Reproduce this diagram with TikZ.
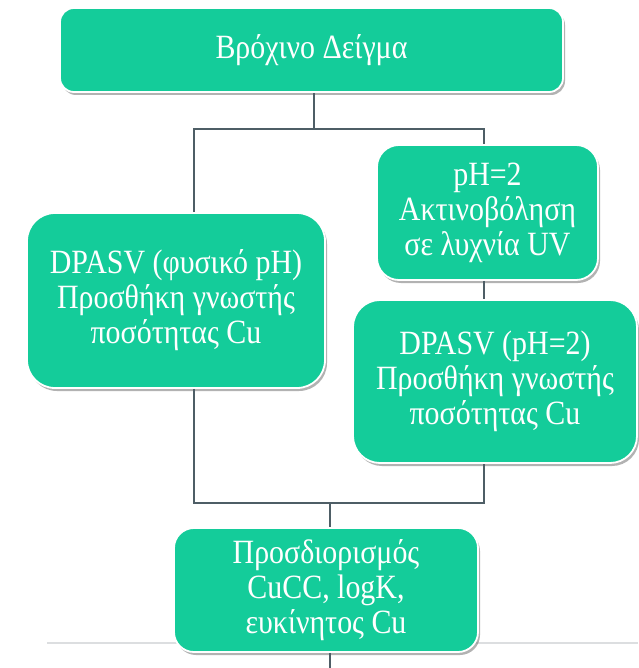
\documentclass[tikz,border=0pt]{standalone}
\usepackage{fontspec}
\setmainfont{Liberation Serif}
\newfontfamily\boxfont[FakeStretch=0.88]{Liberation Serif}
\usetikzlibrary{shadows}
\definecolor{boxgreen}{RGB}{20,204,154}
\definecolor{connc}{RGB}{78,94,102}
\definecolor{rulec}{RGB}{220,222,224}
\begin{document}
\begin{tikzpicture}[x=1pt,y=1pt,
  box/.style={fill=boxgreen, draw=white, line width=1.8pt, align=center,
    text=white, inner sep=2pt,
    font=\boxfont\fontsize{34}{35}\selectfont,
    drop shadow={shadow xshift=2pt, shadow yshift=-3pt, fill=black!55, opacity=0.55}},
  conn/.style={draw=connc, line width=1.4pt},
  rulel/.style={draw=rulec, line width=1.2pt}]
\useasboundingbox (0,0) rectangle (638,-668);
\fill[white] (0,0) rectangle (638,-668);
% light rule behind the bottom box
\coordinate (g1) at (47,-643);
\coordinate (g2) at (638,-643);
\draw[rulel] (g1) -- (g2);
% boxes
\node[box, minimum width=503pt, minimum height=84pt, rounded corners=14pt] (top) at (311.5,-50) {Βρόχινο Δείγμα};
\node[box, minimum width=221pt, minimum height=135pt, rounded corners=22pt] (rtop) at (487.5,-212.5) {pH=2\\Ακτινοβόληση\\σε λυχνία UV};
\node[box, minimum width=298pt, minimum height=175pt, rounded corners=28pt] (left) at (176,-300.5) {DPASV (φυσικό pH)\\Προσθήκη γνωστής\\ποσότητας Cu};
\node[box, minimum width=284pt, minimum height=163pt, rounded corners=27pt] (rlow) at (495,-381.5) {DPASV (pH=2)\\Προσθήκη γνωστής\\ποσότητας Cu};
\node[box, minimum width=304pt, minimum height=124pt, rounded corners=20pt] (bottom) at (326,-590) {Προσδιορισμός\\CuCC, logK,\\ευκίνητος Cu};
% junction coordinates
\coordinate (jm) at (314,-129);
\coordinate (jl) at (194,-129);
\coordinate (jr) at (484,-129);
\coordinate (kl) at (194,-503);
\coordinate (kr) at (484,-503);
\coordinate (km) at (330,-503);
\coordinate (bend) at (330,-668);
% connectors
\draw[conn] (top.south -| jm) -- (jm);
\draw[conn] (left.north -| jl) -- (jl) -- (jr) -- (rtop.north -| jr);
\draw[conn] (rtop.south -| jr) -- (rlow.north -| jr);
\draw[conn] (left.south -| kl) -- (kl) -- (kr) -- (rlow.south -| kr);
\draw[conn] (km) -- (bottom.north -| km);
\draw[conn] (bottom.south -| km) -- (bend);
\end{tikzpicture}
\end{document}
